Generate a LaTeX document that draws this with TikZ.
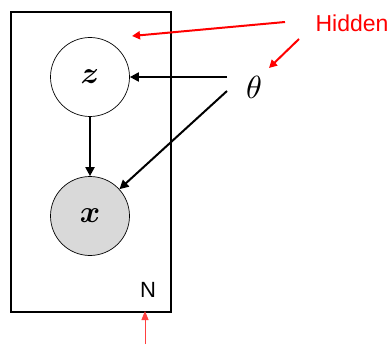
\documentclass[tikz,border=0pt]{standalone}
\usepackage{amsmath,bm}
\usepackage{graphicx}
\usepackage{fontspec}
\setsansfont{Liberation Sans}
\usetikzlibrary{arrows.meta}
\definecolor{obsgray}{HTML}{D9D9D9}
\tikzset{
  plate/.style={draw=black, line width=2.4pt, minimum width=160pt, minimum height=300pt, inner sep=0pt},
  latent/.style={circle, draw=black, line width=0.7pt, minimum size=79pt, inner sep=0pt},
  obs/.style={latent, fill=obsgray},
  blk/.style={draw=black, line width=2pt, -{Triangle[length=9pt,width=9pt]}},
  redarr/.style={draw=red, line width=2pt, -{Triangle[length=8pt,width=8pt]}},
  redthin/.style={draw=red!75, line width=1pt, -{Triangle[length=9pt,width=7pt]}},
  lbl/.style={inner sep=0pt, font=\sffamily\fontsize{22}{22}\selectfont}
}
\begin{document}
\begin{tikzpicture}[x=1pt,y=-1pt]
\useasboundingbox (0,0) rectangle (391,345);
\node[plate] (plate) at (90.75,162) {};
\node[latent] (z) at (90,77) {\scalebox{3.1}{$\bm{z}$}};
\node[obs] (x) at (90,216) {\scalebox{3.1}{$\bm{x}$}};
\node[inner sep=0pt] (theta) at (254,87) {\scalebox{3.2}{$\theta$}};
\node[lbl, text=red, font=\sffamily\fontsize{23}{23}\selectfont] (hidden) at (352,23) {Hidden};
\node[lbl] (N) at (148,290) {N};
\coordinate (t1) at (227,77);
\coordinate (t2) at (227,91);
\coordinate (h1s) at (285,22);
\coordinate (h1e) at (132,36);
\coordinate (h2s) at (299,39);
\coordinate (h2e) at (269,68);
\coordinate (n1s) at (145,344);
\coordinate (n1e) at (145,311);
\draw[blk] (t1) -- (z);
\draw[blk] (t2) -- (x);
\draw[blk] (z) -- (x);
\draw[redarr] (h1s) -- (h1e);
\draw[redarr] (h2s) -- (h2e);
\draw[redthin] (n1s) -- (n1e);
\end{tikzpicture}
\end{document}
